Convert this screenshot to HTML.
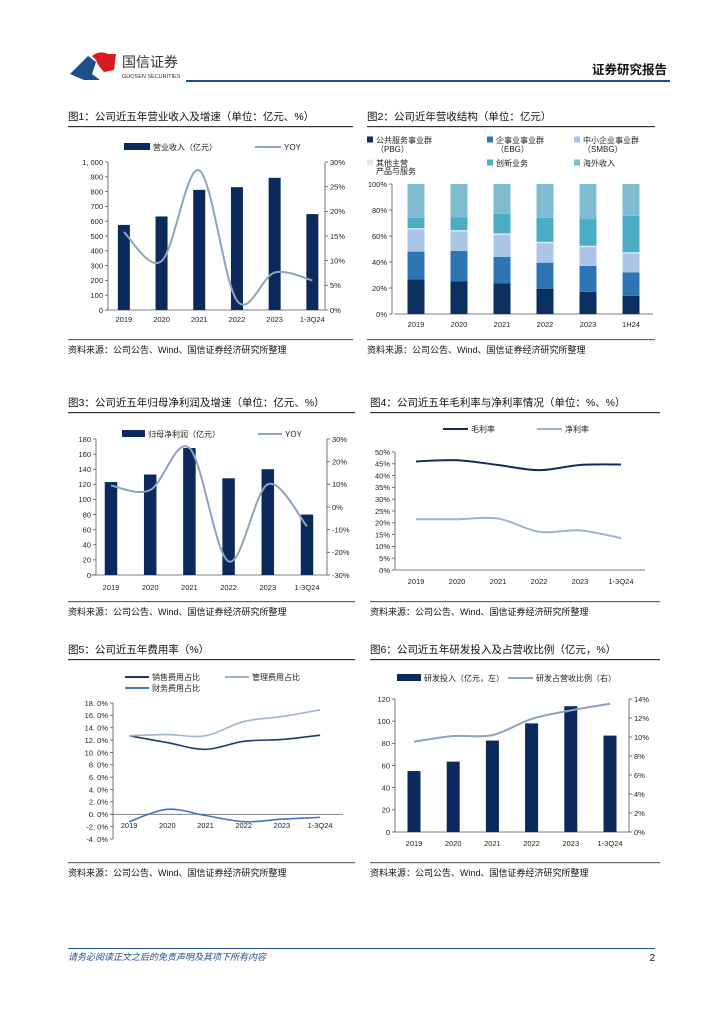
<!DOCTYPE html>
<html><head><meta charset="utf-8">
<style>
html,body{margin:0;padding:0;background:#fff;}
svg{display:block;font-family:"Liberation Sans","Noto Sans CJK SC",sans-serif;}
</style></head>
<body>
<svg id="page" width="724" height="1024" viewBox="0 0 724 1024" xmlns="http://www.w3.org/2000/svg">
  <g>
    <path d="M70 74 L88 56 L96 62 L92 74 L100 80 L84 80 Z" fill="#1f4e8c"/>
    <path d="M92 56 Q100 50 108 54 L116 54 L114 70 L104 72 Q98 66 96 60 Z" fill="#d71920"/>
    <text x="122" y="67" font-size="14" fill="#333">国信证券</text>
    <text x="122" y="78" font-size="5.5" fill="#333">GUOSEN SECURITIES</text>
    <rect x="186" y="80" width="484" height="2" fill="#1f4e8c"/>
    <text x="667" y="74" font-size="12.5" font-weight="bold" text-anchor="end" fill="#111">证券研究报告</text>
  </g>
  <g>
    <rect x="68" y="948" width="587" height="1" fill="#1f4e8c"/>
    <text x="68" y="960" font-size="9" font-style="italic" fill="#1f4e8c">请务必阅读正文之后的免责声明及其项下所有内容</text>
    <text x="655" y="961" font-size="10" text-anchor="end" fill="#111">2</text>
  </g>
</svg>
<script>
const cats = ['2019','2020','2021','2022','2023','1-3Q24'];
const cats2 = ['2019','2020','2021','2022','2023','1H24'];
// chart 1
const rev1 = [575,632,812,830,893,648];
const yoy1 = [15.8,9.9,28.3,1.9,7.6,6.0];
const ticks1L = ['0','100','200','300','400','500','600','700','800','900','1, 000'];
const ticks1R = ['0%','5%','10%','15%','20%','25%','30%'];
// chart 2
const pbg2 = [26.5,25,23.5,19.5,17,14];
const ebg2 = [21.5,23.5,20.5,20,20,18];
const smbg2 = [17,15,17,15,14.5,14.5];
const other2 = [1,1,1,1,1,1];
const innov2 = [8,10,15,18.5,20.5,28];
const overseas2 = [26,25.5,23,26,27,24.5];
const ticks2 = ['0%','20%','40%','60%','80%','100%'];
// chart 3
const profit3 = [123,133,168,128,140,80];
const yoy3 = [9.5,7.5,26,-24,10,-8.5];
const ticks3L = ['0','20','40','60','80','100','120','140','160','180'];
const ticks3R = ['-30%','-20%','-10%','0%','10%','20%','30%'];
// chart 4
const gross4 = [46,46.5,44.5,42.3,44.5,44.7];
const net4 = [21.5,21.5,21.8,16.2,16.8,13.5];
const ticks4 = ['0%','5%','10%','15%','20%','25%','30%','35%','40%','45%','50%'];
// chart 5
const sales5 = [12.7,11.6,10.5,11.8,12.1,12.8];
const admin5 = [12.7,12.9,12.7,15.0,15.8,16.9];
const fin5 = [-1.2,0.8,-0.2,-1.2,-0.8,-0.5];
const ticks5 = ['-4. 0%','-2. 0%','0. 0%','2. 0%','4. 0%','6. 0%','8. 0%','10. 0%','12. 0%','14. 0%','16. 0%','18. 0%'];
// chart 6
const rd6 = [55,63.5,82.5,98,113.5,87];
const ratio6 = [9.5,10.1,10.2,11.9,12.8,13.5];
const ticks6L = ['0','20','40','60','80','100','120'];
const ticks6R = ['0%','2%','4%','6%','8%','10%','12%','14%'];

const NS='http://www.w3.org/2000/svg';
const svg=document.getElementById('page');
function mk(tag,attrs,parent){const e=document.createElementNS(NS,tag);for(const k in attrs)e.setAttribute(k,attrs[k]);(parent||svg).appendChild(e);return e;}
function lin(d0,d1,r0,r1){return v=>r0+(v-d0)*(r1-r0)/(d1-d0);}
function smooth(pts){let d='M'+pts[0][0]+' '+pts[0][1];for(let i=0;i<pts.length-1;i++){const p0=pts[Math.max(i-1,0)],p1=pts[i],p2=pts[i+1],p3=pts[Math.min(i+2,pts.length-1)];const c1=[p1[0]+(p2[0]-p0[0])/6,p1[1]+(p2[1]-p0[1])/6],c2=[p2[0]-(p3[0]-p1[0])/6,p2[1]-(p3[1]-p1[1])/6];d+=' C'+c1[0]+' '+c1[1]+' '+c2[0]+' '+c2[1]+' '+p2[0]+' '+p2[1];}return d;}
const C='#0b2a5b', G='#8ea3bd';

function frame(x,title,y,w){
  const t=mk('text',{x:x,y:y,'font-size':10.5,fill:'#111'});t.textContent=title;
  
  
  const r=mk('rect',{x:x,y:y+6,width:w,height:1.2,fill:'#333'});
  
  
}
function source(x,y,w){
  const r=mk('rect',{x:x,y:y,width:w,height:1.2,fill:'#666'});
  
  
  const t=mk('text',{x:x,y:y+14,'font-size':9,fill:'#111'});t.textContent='资料来源：公司公告、Wind、国信证券经济研究所整理';
  
  
}
function yAxis(x,ys,labels,vals,side){
  const l=mk('line',{x1:x,x2:x,y1:ys(vals[0]),y2:ys(vals[vals.length-1]),stroke:'#555','stroke-width':0.8});
  
  
  labels.forEach((lb,i)=>{const y=ys(vals[i]);
    mk('line',{x1:x,x2:side==='left'?x-3:x+3,y1:y,y2:y,stroke:'#555','stroke-width':0.8});
    const t=mk('text',{x:side==='left'?x-5:x+5,y:y+2.8,'font-size':7.5,fill:'#222','text-anchor':side==='left'?'end':'start'});t.textContent=lb;
    
    });
}
function xAxis(x0,band,y,axY,labels,x1){
  const l=mk('line',{x1:x0,x2:x1||x0+band*labels.length,y1:axY,y2:axY,stroke:'#555','stroke-width':0.8});
  
  
  labels.forEach((lb,i)=>{
    const t=mk('text',{x:x0+(i+0.5)*band,y:y,'font-size':7.5,fill:'#222','text-anchor':'middle'});t.textContent=lb;
    
    });
}
function range(a,b,s){const r=[];for(let v=a;v<=b+1e-9;v+=s)r.push(v);return r;}
function legendItem(x,y,kind,color,label,w){
  if(kind==='bar'){const s=mk('rect',{x:x,y:y-4,width:w||24,height:7,fill:color});}
  else if(kind==='sq'){const s=mk('rect',{x:x,y:y-3.5,width:6,height:6,fill:color});}
  else {const s=mk('line',{x1:x,x2:x+(w||24),y1:y,y2:y,stroke:color,'stroke-width':2});}
  const off=kind==='sq'?9:(w||24)+3;
  const t=mk('text',{x:x+off,y:y+3,'font-size':8,fill:'#222'});t.textContent=label;
  
  
}
function bars(x0,band,bw,vals,ys,color,name){
  vals.forEach((v,i)=>{const cx=x0+(i+0.5)*band;
    const b=mk('rect',{x:cx-bw/2,y:ys(v),width:bw,height:ys(0)-ys(v),fill:color});
    
    });
}
function line(x0,band,vals,ys,color,name,w){
  const pts=vals.map((v,i)=>[x0+(i+0.5)*band,ys(v)]);
  const p=mk('path',{d:smooth(pts),fill:'none',stroke:color,'stroke-width':w||2});
  
  
}

// ---- Chart 1
frame(68,'图1：公司近五年营业收入及增速（单位：亿元、%）',120,285);
legendItem(124,147,'bar',C,'营业收入（亿元）',26);
legendItem(255,147,'line',G,'YOY',26);
{const yl=lin(0,1000,310,162), yr=lin(0,30,310,162), x0=105, band=37.7;
 yAxis(108,yl,ticks1L,range(0,1000,100),'left');
 yAxis(325,yr,ticks1R,range(0,30,5),'right');
 xAxis(108,band,322,310,cats.map(()=>''),325);
 xAxis(x0,band,322,310,cats,108);
 bars(x0,band,12,rev1,yl,C,'revenue-bar');
 line(x0,band,yoy1,yr,G,'revenue-yoy-line');}
source(68,339,285);

// ---- Chart 2
frame(367,'图2：公司近年营收结构（单位：亿元）',120,288);
const segs2=[[pbg2,'#0b2f5e'],[ebg2,'#2e75b6'],[smbg2,'#a9c6e8'],[other2,'#deebf7'],[innov2,'#4bacc6'],[overseas2,'#7fbcd2']];
legendItem(367,140,'sq','#0b2f5e','公共服务事业群');
legendItem(487,140,'sq','#2e75b6','企事业事业群');
legendItem(574,140,'sq','#a9c6e8','中小企业事业群');
[['（PBG）',376],['（EBG）',496],['（SMBG）',583]].forEach(a=>{const t=mk('text',{x:a[1],y:152,'font-size':8,fill:'#222'});t.textContent=a[0];
  
  });
legendItem(367,163,'sq','#deebf7','其他主营');
legendItem(487,163,'sq','#4bacc6','创新业务');
legendItem(574,163,'sq','#7fbcd2','海外收入');
{const t=mk('text',{x:376,y:174,'font-size':8,fill:'#222'});t.textContent='产品与服务';
 
 }
{const ys=lin(0,100,314,184), x0=394.5, band=43;
 yAxis(392,ys,ticks2,range(0,100,20),'left');
 xAxis(x0,band,327,314,cats2,653);
 for(let i=0;i<6;i++){let acc=0;const cx=x0+(i+0.5)*band;
   segs2.forEach((s,j)=>{const v=s[0][i];
     const r=mk('rect',{x:cx-8.5,y:ys(acc+v),width:17,height:ys(acc)-ys(acc+v),fill:s[1]});
     
     
     acc+=v;});}}
source(367,339,288);

// ---- Chart 3
frame(68,'图3：公司近五年归母净利润及增速（单位：亿元、%）',406,287);
legendItem(122,434,'bar',C,'归母净利润（亿元）',23);
legendItem(258,434,'line',G,'YOY',24);
{const yl=lin(0,180,575,439), yr=lin(-30,30,575,439), x0=91.4, band=39.2;
 yAxis(96,yl,ticks3L,range(0,180,20),'left');
 yAxis(327,yr,ticks3R,range(-30,30,10),'right');
 xAxis(96,band,590,575,cats.map(()=>''),327);
 xAxis(x0,band,590,575,cats,96);
 bars(x0,band,12.5,profit3,yl,C,'profit-bar');
 line(x0,band,yoy3,yr,G,'profit-yoy-line');}
source(68,601,287);

// ---- Chart 4
frame(370,'图4：公司近五年毛利率与净利率情况（单位：%、%）',406,290);
legendItem(443,429,'line','#0f2d5c','毛利率',25);
legendItem(537,429,'line','#9fb3cc','净利率',25);
{const ys=lin(0,50,570,452), x0=395.5, band=41;
 yAxis(395,ys,ticks4,range(0,50,5),'left');
 xAxis(x0,band,584,570,cats,645);
 line(x0,band,gross4,ys,'#0f2d5c','gross-margin-line');
 line(x0,band,net4,ys,'#9fb3cc','net-margin-line');}
source(370,601,290);

// ---- Chart 5
frame(68,'图5：公司近五年费用率（%）',653,287);
legendItem(125,677,'line','#1b3a6b','销售费用占比',24);
legendItem(225,677,'line','#9fb3cc','管理费用占比',24);
legendItem(125,688,'line','#4472c4','财务费用占比',24);
{const ys=lin(-4,18,839,703), x0=110, band=38.2;
 yAxis(113,ys,ticks5,range(-4,18,2),'left');
 xAxis(x0,band,828,ys(0),cats,343);
 line(x0,band,sales5,ys,'#1b3a6b','sales-expense-line',1.6);
 line(x0,band,admin5,ys,'#9fb3cc','admin-expense-line',1.6);
 line(x0,band,fin5,ys,'#4472c4','finance-expense-line',1.6);}
source(68,862,287);

// ---- Chart 6
frame(370,'图6：公司近五年研发投入及占营收比例（亿元，%）',653,290);
legendItem(397,678,'bar',C,'研发投入（亿元，左）',24);
legendItem(508,678,'line',G,'研发占营收比例（右）',25);
{const yl=lin(0,120,832,699), yr=lin(0,14,832,699), x0=394.4, band=39.2;
 yAxis(395,yl,ticks6L,range(0,120,20),'left');
 yAxis(629,yr,ticks6R,range(0,14,2),'right');
 xAxis(x0,band,846,832,cats,629);
 bars(x0,band,13,rd6,yl,C,'rd-bar');
 line(x0,band,ratio6,yr,G,'rd-ratio-line');}
source(370,862,290);
</script>
</body></html>
